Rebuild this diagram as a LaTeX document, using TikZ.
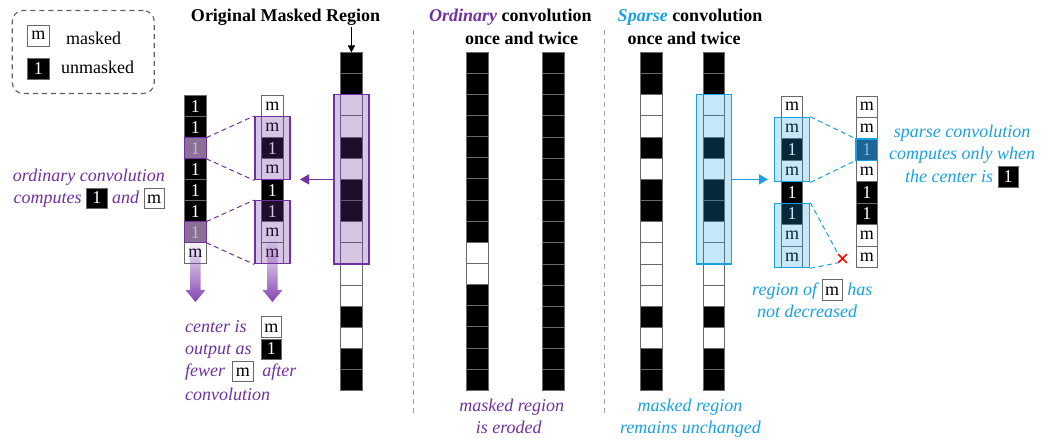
\documentclass[tikz,border=0pt]{standalone}
\usepackage{fontspec}
\setmainfont{Liberation Serif}
\usetikzlibrary{fit,fadings,arrows.meta,shapes.misc}
\definecolor{pur}{RGB}{112,48,160}
\definecolor{pura}{RGB}{132,68,178}
\definecolor{blu}{RGB}{25,160,225}
\definecolor{cellgray}{RGB}{105,105,105}
\definecolor{sepgray}{RGB}{160,160,160}
\definecolor{leggray}{RGB}{95,95,95}
\definecolor{hlpur}{RGB}{138,112,150}
\definecolor{hlpurtxt}{RGB}{195,180,205}
\definecolor{hlblu}{RGB}{30,100,148}
\definecolor{hlblutxt}{RGB}{120,185,225}
\colorlet{K}{black}
\colorlet{W}{white}
\colorlet{fm}{white}
\colorlet{f1}{black}
\colorlet{tm}{black}
\colorlet{t1}{white}
\newcommand\im{{\setlength\fboxsep{0pt}\setlength\fboxrule{0.9pt}\fcolorbox{cellgray}{white}{\makebox[19.5pt]{\rule[-4.5pt]{0pt}{20pt}\upshape\color{black}m}}}}
\newcommand\ione{{\setlength\fboxsep{0pt}\setlength\fboxrule{0.9pt}\fcolorbox{cellgray}{black}{\makebox[19.5pt]{\rule[-4.5pt]{0pt}{20pt}\upshape\color{white}1}}}}
\newcommand\plaincol[5]{\foreach \t [count=\i] in {#5}{\node[cell,fill=\t,minimum height=#4pt] (#1-\i) at ({#2},{#3+(\i-1)*#4}) {};}}
\newcommand\labcol[5]{\foreach \t [count=\i] in {#5}{\node[cell,fill=f\t,text=t\t,minimum height=#4pt] (#1-\i) at ({#2},{#3+(\i-1)*#4}) {\t};}}
\begin{document}
\begin{tikzpicture}[x=1pt,y=-1pt, font=\fontsize{18}{21}\selectfont,
  cell/.style={draw=cellgray, line width=0.9pt, minimum width=21.5pt, inner sep=0pt, outer sep=0pt, anchor=north west},
  pbox/.style={draw=pur, line width=1.4pt, fill=pur, fill opacity=0.28, inner xsep=6.8pt, inner ysep=0pt},
  bbox/.style={draw=blu, line width=1.4pt, fill=blu, fill opacity=0.25, inner xsep=6.8pt, inner ysep=0pt},
  sep/.style={draw=sepgray, line width=0.9pt, dash pattern=on 5pt off 4pt},
  pdash/.style={draw=pur, line width=1pt, dash pattern=on 5pt off 3.5pt},
  bdash/.style={draw=blu, line width=1pt, dash pattern=on 5pt off 3.5pt},
  ptxt/.style={text=pur, font=\fontsize{18}{21}\selectfont\itshape, inner sep=0pt},
  btxt/.style={text=blu, font=\fontsize{18}{21}\selectfont\itshape, inner sep=0pt},
  ttl/.style={font=\fontsize{18}{21}\selectfont\bfseries, inner sep=0pt},
  hlp/.style={fill=hlpur, draw=pur, line width=1.4pt, text=hlpurtxt},
  hlb/.style={fill=hlblu, draw=blu, line width=1.4pt, text=hlblutxt},
]
\useasboundingbox (0,0) rectangle (1041,443);

% legend
\node[draw=leggray, line width=1.1pt, dash pattern=on 5pt off 4pt, rounded corners=11pt, minimum width=142pt, minimum height=83pt, inner sep=0pt, anchor=north west] (leg) at (11.7,10) {};
\node[cell, fill=white, minimum height=21pt] (lgm) at (27.7,25) {m};
\node[cell, fill=black, text=white, minimum height=21pt] (lg1) at (27.7,58.3) {1};
\node[anchor=base west, inner sep=0pt] (lgmt) at (66,44.5) {masked};
\node[anchor=base west, inner sep=0pt] (lg1t) at (61,74) {unmasked};

% titles
\node[ttl, anchor=base] (t1) at (285.5,22) {Original Masked Region};
\node[ttl, anchor=base] (t2) at (510.3,22) {\textcolor{pur}{\itshape Ordinary} convolution};
\node[ttl, anchor=base] (t2b) at (521.7,44.5) {once and twice};
\node[ttl, anchor=base] (t3) at (690,22) {\textcolor{blu}{\itshape Sparse} convolution};
\node[ttl, anchor=base] (t3b) at (684.2,44.5) {once and twice};

% separators
\coordinate (s1a) at (413.3,30); \coordinate (s1b) at (413.3,413);
\coordinate (s2a) at (604,30); \coordinate (s2b) at (604,413);
\draw[sep] (s1a) -- (s1b);
\draw[sep] (s2a) -- (s2b);

% big columns
\plaincol{O}{340.7}{52.5}{21.15}{K,K,W,W,K,W,K,K,W,W,W,W,K,W,K,K}
\plaincol{P}{466.8}{52}{21.15}{K,K,K,K,K,K,K,K,K,W,W,K,K,K,K,K}
\plaincol{Q}{542.8}{52.5}{21.15}{K,K,K,K,K,K,K,K,K,K,K,K,K,K,K,K}
\plaincol{S}{640.5}{52.5}{21.15}{K,K,W,W,K,W,K,K,W,W,W,W,K,W,K,K}
\plaincol{T}{703.2}{52.5}{21.15}{K,K,W,W,K,W,K,K,W,W,W,W,K,W,K,K}

% small columns
\labcol{L1}{184.7}{95.7}{21}{1,1,1,1,1,1,1,m}
\labcol{L2}{261.7}{95.7}{21}{m,m,1,m,1,1,m,m}
\labcol{A}{781.3}{96}{21.45}{m,m,1,m,1,1,m,m}
\labcol{B}{856}{96}{21.45}{m,m,1,m,1,1,m,m}

% gradient arrows
\fill[pura, path fading=north] (190.2,238) -- (200.7,238) -- (200.7,290) -- (205.5,290) -- (195.45,302) -- (185.4,290) -- (190.2,290) -- cycle;
\fill[pura, path fading=north] (267.2,238) -- (277.7,238) -- (277.7,290) -- (282.5,290) -- (272.45,302) -- (262.4,290) -- (267.2,290) -- cycle;

% highlighted cells
\node[cell, hlp, minimum height=21pt, anchor=center] (L1a) at (L1-3.center) {1};
\node[cell, hlp, minimum height=21pt, anchor=center] (L1b) at (L1-7.center) {1};
\node[cell, hlb, minimum height=21.45pt, anchor=center] (B3h) at (B-3.center) {1};

% overlay boxes
\node[pbox, fit=(O-3)(O-10)] (obox) {};
\node[pbox, fit=(L2-2)(L2-4)] (lb1) {};
\node[pbox, fit=(L2-6)(L2-8)] (lb2) {};
\node[bbox, fit=(T-3)(T-10)] (tbox) {};
\node[bbox, fit=(A-2)(A-4)] (ab1) {};
\node[bbox, fit=(A-6)(A-8)] (ab2) {};

% arrows
\coordinate (otop) at (351.45,27);
\draw[black, line width=1pt, -{Triangle[length=7pt,width=7pt]}] (otop) -- (O-1.north);
\coordinate (ptip) at (300,0);
\draw[pur, line width=1.4pt, -{Triangle[length=9pt,width=10pt]}] (obox.west) -- (obox.west -| ptip);
\coordinate (btip) at (768,0);
\draw[blu, line width=1.4pt, -{Triangle[length=9pt,width=10pt]}] (tbox.east) -- (tbox.east -| btip);

% dashed connectors
\draw[pdash] (L1a.north east) -- (lb1.north west);
\draw[pdash] (L1a.south east) -- (lb1.south west);
\draw[pdash] (L1b.north east) -- (lb2.north west);
\draw[pdash] (L1b.south east) -- (lb2.south west);
\node[cross out, draw=red, line width=1.6pt, minimum size=7pt, inner sep=0pt] (xm) at (842.5,258.5) {};
\draw[bdash] (ab1.north east) -- (B3h.north west);
\draw[bdash] (ab1.south east) -- (B3h.south west);
\draw[bdash] (ab2.north east) -- (xm.north west);
\draw[bdash] (ab2.south east) -- (xm.south west);

% left texts
\node[ptxt, anchor=base east] (oc1) at (165,182) {ordinary convolution};
\node[ptxt, anchor=base east] (oc2) at (165,204) {computes \ione{} and \im};
\node[ptxt, anchor=base west] (ce1) at (185,332.5) {\makebox[75.5pt][l]{center is}\im};
\node[ptxt, anchor=base west] (ce2) at (185,355) {\makebox[75.5pt][l]{output as}\ione};
\node[ptxt, anchor=base west] (ce3) at (185,377) {fewer\hspace{7pt}\im\hspace{9pt}after};
\node[ptxt, anchor=base west] (ce4) at (185,400.6) {convolution};

% bottom texts
\node[ptxt, anchor=base] (er1) at (511.7,411) {masked region};
\node[ptxt, anchor=base] (er2) at (508.8,433) {is eroded};
\node[btxt, anchor=base] (un1) at (690,411) {masked region};
\node[btxt, anchor=base] (un2) at (690.5,433) {remains unchanged};

% right texts
\node[btxt, anchor=base] (sc1) at (962,138) {sparse convolution};
\node[btxt, anchor=base] (sc2) at (962,160) {computes only when};
\node[btxt, anchor=base] (sc3) at (962,182.5) {the center is \ione};
\node[btxt, anchor=base west] (rg1) at (752,295.5) {region of \im{} has};
\node[btxt, anchor=base west] (rg2) at (757,318) {not decreased};
\end{tikzpicture}
\end{document}
